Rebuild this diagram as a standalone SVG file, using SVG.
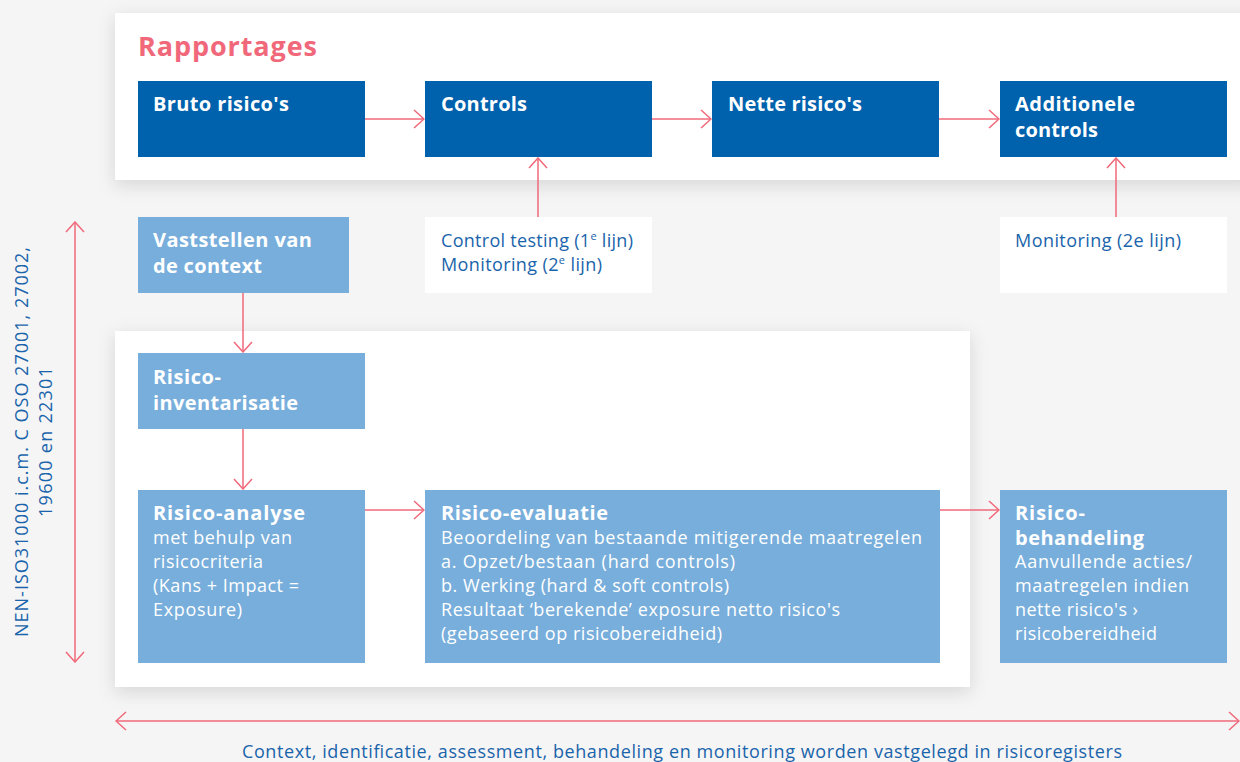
<svg xmlns="http://www.w3.org/2000/svg" width="1240" height="762" viewBox="0 0 1240 762">
<defs>
<style>
.bg{fill:#f5f5f5}
.panel{fill:#ffffff;filter:url(#sh)}
.dark{fill:#0062ad}
.light{fill:#78aedb}
.white{fill:#ffffff}
.t{font-family:"Open Sans","Liberation Sans",sans-serif}
.title{font-size:20px;font-weight:700;fill:#ffffff}
.body{font-size:18px;fill:#ffffff}
.blue{font-size:18px;fill:#1a64ab}
.rap{font-size:27px;font-weight:700;fill:#f0687a}
.con{stroke:#f0687a;stroke-width:1.5;fill:none}
</style>
<filter id="sh" x="-10%" y="-20%" width="120%" height="150%">
<feDropShadow dx="0" dy="5" stdDeviation="9" flood-color="#000" flood-opacity="0.13"/>
</filter>
<marker id="ah" markerUnits="userSpaceOnUse" viewBox="0 0 12 20" refX="11" refY="10" markerWidth="12" markerHeight="20" orient="auto-start-reverse">
<path d="M1,1 L11,10 L1,19" fill="none" stroke="#f0687a" stroke-width="1.5"/>
</marker>
</defs>
<rect class="bg" x="0" y="0" width="1240" height="762"/>

<g id="panel-top"><rect class="panel" x="115" y="13" width="1140" height="167"/></g>
<g id="panel-bottom"><rect class="panel" x="115" y="331" width="855" height="356"/></g>

<g id="rapportages"><text class="t rap" x="138" y="56" textLength="179">Rapportages</text></g>

<g id="bruto"><rect class="dark" x="138" y="81" width="227" height="76"/>
<text class="t title" x="153" y="111" textLength="136">Bruto risico's</text></g>
<g id="controls"><rect class="dark" x="425" y="81" width="227" height="76"/>
<text class="t title" x="441" y="111" textLength="86">Controls</text></g>
<g id="nette"><rect class="dark" x="712" y="81" width="227" height="76"/>
<text class="t title" x="728" y="111" textLength="134">Nette risico's</text></g>
<g id="additionele"><rect class="dark" x="1000" y="81" width="227" height="76"/>
<text class="t title" x="1015" y="111" textLength="120">Additionele</text>
<text class="t title" x="1015" y="137" textLength="83">controls</text></g>

<g id="control-testing"><rect class="white" x="425" y="217" width="227" height="76"/>
<text class="t blue" x="441" y="247" textLength="192">Control testing (1<tspan font-size="11" dy="-7">e</tspan><tspan dy="7"> lijn)</tspan></text>
<text class="t blue" x="441" y="271" textLength="161">Monitoring (2<tspan font-size="11" dy="-7">e</tspan><tspan dy="7"> lijn)</tspan></text></g>
<g id="monitoring"><rect class="white" x="1000" y="217" width="227" height="76"/>
<text class="t blue" x="1015" y="247" textLength="166">Monitoring (2e lijn)</text></g>

<g id="vaststellen"><rect class="light" x="138" y="217" width="211" height="76"/>
<text class="t title" x="153" y="247" textLength="159">Vaststellen van</text>
<text class="t title" x="153" y="273" textLength="109">de context</text></g>

<g id="inventarisatie"><rect class="light" x="138" y="353" width="227" height="76"/>
<text class="t title" x="153" y="384" textLength="68">Risico-</text>
<text class="t title" x="153" y="410" textLength="145">inventarisatie</text></g>

<g id="analyse"><rect class="light" x="138" y="490" width="227" height="173"/>
<text class="t title" x="153" y="520" textLength="152">Risico-analyse</text>
<text class="t body" x="153" y="544" textLength="139">met behulp van</text>
<text class="t body" x="153" y="568" textLength="110">risicocriteria</text>
<text class="t body" x="153" y="592" textLength="146">(Kans + Impact =</text>
<text class="t body" x="153" y="616" textLength="89">Exposure)</text></g>

<g id="evaluatie"><rect class="light" x="425" y="490" width="515" height="173"/>
<text class="t title" x="441" y="520" textLength="167">Risico-evaluatie</text>
<text class="t body" x="441" y="544" textLength="481">Beoordeling van bestaande mitigerende maatregelen</text>
<text class="t body" x="441" y="568" textLength="294">a. Opzet/bestaan (hard controls)</text>
<text class="t body" x="441" y="592" textLength="288">b. Werking (hard &amp; soft controls)</text>
<text class="t body" x="441" y="616" textLength="399">Resultaat ‘berekende’ exposure netto risico's</text>
<text class="t body" x="441" y="640" textLength="281">(gebaseerd op risicobereidheid)</text></g>

<g id="behandeling"><rect class="light" x="1000" y="490" width="227" height="173"/>
<text class="t title" x="1015" y="520" textLength="70">Risico-</text>
<text class="t title" x="1015" y="545" textLength="129">behandeling</text>
<text class="t body" x="1015" y="568" textLength="177">Aanvullende acties/</text>
<text class="t body" x="1015" y="592" textLength="174">maatregelen indien</text>
<text class="t body" x="1015" y="616" textLength="123">nette risico's ›</text>
<text class="t body" x="1015" y="640" textLength="142">risicobereidheid</text></g>

<g id="side-label">
<text class="t blue" transform="translate(28,442) rotate(-90)" text-anchor="middle" textLength="390">NEN-ISO31000 i.c.m. C OSO 27001, 27002,</text>
<text class="t blue" transform="translate(52,442) rotate(-90)" text-anchor="middle" textLength="150">19600 en 22301</text>
</g>
<g id="bottom-label">
<text class="t blue" x="682" y="758" text-anchor="middle" textLength="880">Context, identificatie, assessment, behandeling en monitoring worden vastgelegd in risicoregisters</text>
</g>

<g id="connectors">
<line class="con" x1="365" y1="119" x2="424" y2="119" marker-end="url(#ah)"/>
<line class="con" x1="652" y1="119" x2="711" y2="119" marker-end="url(#ah)"/>
<line class="con" x1="939" y1="119" x2="999" y2="119" marker-end="url(#ah)"/>
<line class="con" x1="538" y1="217" x2="538" y2="158" marker-end="url(#ah)"/>
<line class="con" x1="1116" y1="217" x2="1116" y2="158" marker-end="url(#ah)"/>
<line class="con" x1="243" y1="293" x2="243" y2="352" marker-end="url(#ah)"/>
<line class="con" x1="243" y1="429" x2="243" y2="489" marker-end="url(#ah)"/>
<line class="con" x1="365" y1="510" x2="424" y2="510" marker-end="url(#ah)"/>
<line class="con" x1="940" y1="510" x2="999" y2="510" marker-end="url(#ah)"/>
<line class="con" x1="75" y1="222" x2="75" y2="662" marker-start="url(#ah)" marker-end="url(#ah)"/>
<line class="con" x1="116" y1="721" x2="1239" y2="721" marker-start="url(#ah)" marker-end="url(#ah)"/>
</g>
</svg>
